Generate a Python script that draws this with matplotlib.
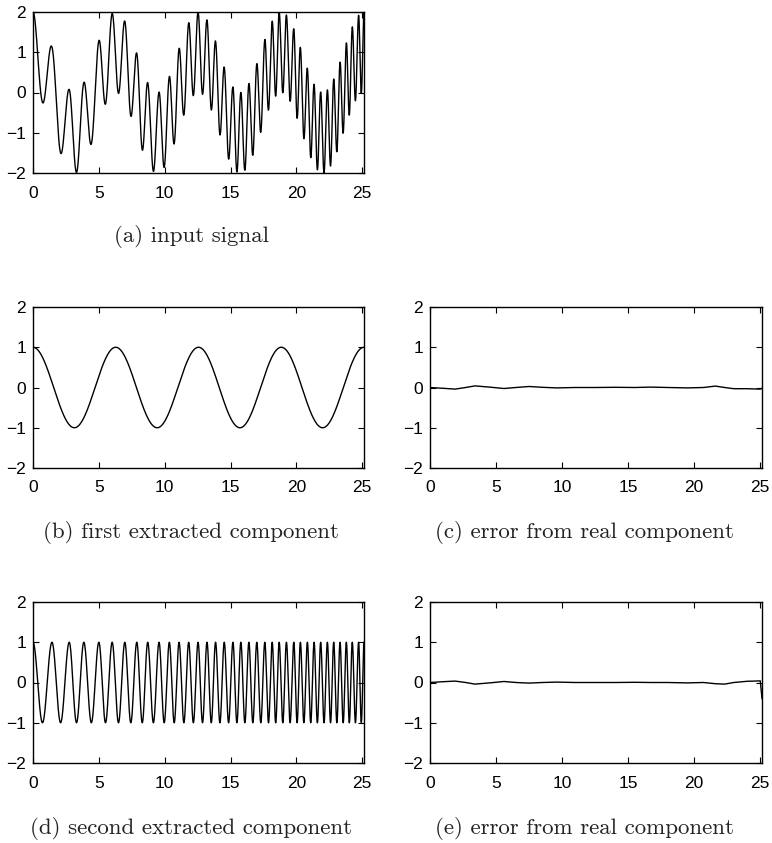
import numpy as np
import matplotlib
matplotlib.use("Agg")
import matplotlib.pyplot as plt

# peak times of the two components
slow_peaks = [0.0, 6.28, 12.57, 18.85, 25.13]
fast_peaks = [0.0, 1.44, 2.75, 3.86, 5.0, 6.01, 6.97, 7.88, 8.71, 9.57,
              10.35, 11.09, 11.82, 12.53, 13.21, 13.86, 14.52, 15.18, 15.78,
              16.39, 16.99, 17.60, 18.16, 18.69, 19.24, 19.80, 20.30, 20.83,
              21.34, 21.84, 22.35, 22.83, 23.31, 23.79, 24.24, 24.72, 25.13]

# error curves
err_t = [0, 1, 1.9, 2.7, 3.4, 4.5, 5.6, 6.5, 7.5, 8.5, 9.6, 11, 12.5, 14,
         15.5, 16.7, 18, 19.5, 20.7, 21.6, 22.3, 23.0, 24, 25.0, 25.13]
err_c = [0, -0.02, -0.04, 0.0, 0.04, 0.01, -0.025, 0.0, 0.025, 0.005, -0.01,
         0.0, 0.0, 0.005, 0.0, 0.01, 0.0, -0.01, 0.0, 0.035, 0.0, -0.03,
         -0.03, -0.04, -0.02]
err_e = [0, 0.02, 0.035, 0.0, -0.04, -0.01, 0.025, 0.0, -0.015, 0.0, 0.01,
         0.0, 0.0, 0.0, 0.005, 0.0, 0.0, -0.01, 0.0, -0.03, -0.04, 0.0,
         0.03, 0.04, -0.4]

captions = ["(a) input signal", "(b) first extracted component",
            "(c) error from real component", "(d) second extracted component",
            "(e) error from real component"]

t = np.linspace(0, 25.13, 4000)
slow = np.cos(np.interp(t, slow_peaks, 2 * np.pi * np.arange(len(slow_peaks))))
fast = np.cos(np.interp(t, fast_peaks, 2 * np.pi * np.arange(len(fast_peaks))))

W, H = 772, 843
fig = plt.figure(figsize=(W / 100, H / 100), dpi=100)


def make_ax(x0, x1, y0, y1):
    ax = fig.add_axes([x0 / W, 1 - y1 / H, (x1 - x0) / W, (y1 - y0) / H])
    ax.set_xlim(0, 25.13)
    ax.set_ylim(-2, 2)
    ax.set_xticks([0, 5, 10, 15, 20, 25])
    ax.set_yticks([-2, -1, 0, 1, 2])
    ax.tick_params(direction="in", top=True, right=True, length=4,
                   labelsize=12.5)
    ax.tick_params(axis="x", pad=9)
    ax.tick_params(axis="y", pad=5)
    for lab in ax.get_xticklabels() + ax.get_yticklabels():
        lab.set_family("Liberation Sans")
    for s in ax.spines.values():
        s.set_linewidth(1.0)
    return ax


boxes = [(33, 364, 12, 173), (33, 364, 307, 468), (430, 762, 307, 468),
         (33, 364, 602, 763), (430, 762, 602, 763)]
series = [(t, slow + fast), (t, slow), (err_t, err_c), (t, fast),
          (err_t, err_e)]
cap_x = [192, 191, 584, 191, 584]
cap_y = [237, 532, 532, 828, 828]

for box, (xs, ys), cap, cx, cy in zip(boxes, series, captions, cap_x, cap_y):
    ax = make_ax(*box)
    ax.plot(xs, ys, color="black", lw=1.0)
    fig.text(cx / W, 1 - cy / H, cap, ha="center", va="center",
             fontsize=16.5, family="cmr10", color="#222222")

fig.savefig("out.png", dpi=100)
